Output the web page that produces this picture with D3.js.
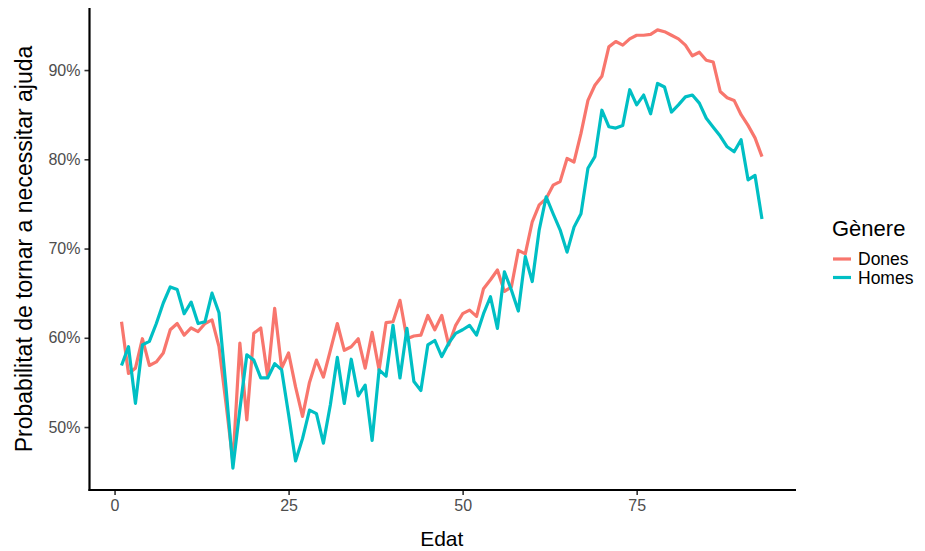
<!DOCTYPE html>
<html>
<head>
<meta charset="utf-8">
<script src="https://cdn.jsdelivr.net/npm/d3@7"></script>
<style>
  html, body { margin: 0; padding: 0; background: #fff; }
  svg { display: block; font-family: "Liberation Sans", Arial, sans-serif; }
</style>
</head>
<body>
<svg id="chart" width="925" height="551"></svg>
<script>
const ages = [1,2,3,4,5,6,7,8,9,10,11,12,13,14,15,16,17,18,19,20,21,22,23,24,25,26,27,28,29,30,
  31,32,33,34,35,36,37,38,39,40,41,42,43,44,45,46,47,48,49,50,51,52,53,54,55,56,57,58,59,60,
  61,62,63,64,65,66,67,68,69,70,71,72,73,74,75,76,77,78,79,80,81,82,83,84,85,86,87,88,89,90,
  91,92,93];

const dones = [61.8,56.0,56.6,59.9,56.9,57.3,58.3,60.9,61.6,60.3,61.1,60.7,61.6,62.0,59.0,52.7,46.1,59.4,50.8,60.5,
  61.1,55.6,63.3,56.6,58.3,54.5,51.2,55.0,57.5,55.6,58.6,61.6,58.6,59.0,59.9,56.6,60.6,56.4,61.7,61.8,
  64.2,59.9,60.2,60.3,62.5,60.9,62.5,59.2,61.4,62.7,63.1,62.4,65.5,66.5,67.6,65.2,65.7,69.8,69.4,73.0,
  74.9,75.6,77.1,77.5,80.1,79.7,82.9,86.6,88.3,89.3,92.6,93.2,92.8,93.5,93.9,93.9,94.0,94.5,94.3,93.9,
  93.5,92.8,91.6,92.0,91.1,90.9,87.6,86.9,86.6,85.0,83.8,82.4,80.3];

const homes = [56.9,59.0,52.65,59.2,59.6,61.6,63.9,65.7,65.4,62.7,64.0,61.6,61.8,65.0,62.8,54.5,45.4,52.0,58.1,57.5,
  55.5,55.5,57.1,56.4,51.4,46.2,48.7,51.9,51.5,48.2,52.5,57.8,52.65,57.6,53.5,54.7,48.5,56.4,55.7,61.4,
  55.5,61.05,55.1,54.1,59.2,59.7,57.9,59.4,60.5,60.9,61.4,60.3,62.7,64.6,61.05,67.4,65.35,63.0,69.1,66.3,
  72.1,75.8,73.9,72.1,69.6,72.4,73.9,79.0,80.3,85.5,83.65,83.5,83.8,87.8,86.1,87.2,85.1,88.5,88.1,85.3,
  86.1,87.0,87.2,86.3,84.6,83.6,82.6,81.4,80.85,82.2,77.7,78.2,73.3];

const seriesNames = ["Dones", "Homes"];
const seriesColors = ["#F8766D", "#00BFC4"];
const xTicks = [0, 25, 50, 75];
const yTicks = [50, 60, 70, 80, 90];
const xTitle = "Edat";
const yTitle = "Probabilitat de tornar a necessitar ajuda";
const legendTitle = "Gènere";

const series = [
  { name: seriesNames[0], color: seriesColors[0], values: dones },
  { name: seriesNames[1], color: seriesColors[1], values: homes }
];

const svg = d3.select("#chart");
const panel = { left: 89.5, right: 794, top: 8, bottom: 490 };

// ggplot-style 5% expansion
function expand(ext) { const r = ext[1] - ext[0]; return [ext[0] - 0.05 * r, ext[1] + 0.05 * r]; }
const xDom = expand(d3.extent(ages));
const yDom = expand(d3.extent(dones.concat(homes)));

const x = d3.scaleLinear().domain(xDom).range([panel.left, panel.right]);
const y = d3.scaleLinear().domain(yDom).range([panel.bottom, panel.top]);

svg.append("rect").attr("width", 925).attr("height", 551).attr("fill", "#fff");

// lines
const line = d3.line().x((d, i) => x(ages[i])).y(d => y(d));
series.forEach(s => {
  svg.append("path")
    .datum(s.values)
    .attr("fill", "none")
    .attr("stroke", s.color)
    .attr("stroke-width", 3.2)
    .attr("stroke-linejoin", "round")
    .attr("d", line);
});

// axes
const xAxis = d3.axisBottom(x).tickValues(xTicks).tickSize(5).tickPadding(5).tickFormat(d3.format("d"));
const yAxis = d3.axisLeft(y).tickValues(yTicks).tickSize(5).tickPadding(4).tickFormat(d => d + "%");

const gx = svg.append("g").attr("transform", `translate(0,${panel.bottom})`).call(xAxis);
const gy = svg.append("g").attr("transform", `translate(${panel.left},0)`).call(yAxis);

[gx, gy].forEach(g => {
  g.select(".domain").remove();
  g.selectAll(".tick line").attr("stroke", "#333").attr("stroke-width", 1.6);
  g.selectAll(".tick text").attr("fill", "#4D4D4D").style("font-size", "16px")
    .style("font-family", "'Liberation Sans', Arial, sans-serif");
});

// axis lines (classic theme)
svg.append("line").attr("x1", panel.left).attr("x2", panel.left)
  .attr("y1", panel.top).attr("y2", panel.bottom + 1)
  .attr("stroke", "#000").attr("stroke-width", 2.2);
svg.append("line").attr("x1", panel.left - 1).attr("x2", panel.right + 2)
  .attr("y1", panel.bottom).attr("y2", panel.bottom)
  .attr("stroke", "#000").attr("stroke-width", 2.2);

// axis titles
svg.append("text").attr("x", (panel.left + panel.right) / 2).attr("y", 546)
  .attr("text-anchor", "middle").style("font-size", "21px").attr("fill", "#000").text(xTitle);
svg.append("text")
  .attr("transform", `translate(32,${(panel.top + panel.bottom) / 2}) rotate(-90)`)
  .attr("text-anchor", "middle").style("font-size", "23px").attr("fill", "#000").text(yTitle);

// legend
const lg = svg.append("g").attr("transform", "translate(832,0)");
lg.append("text").attr("x", 0).attr("y", 236).style("font-size", "22px").attr("fill", "#000").text(legendTitle);
series.forEach((s, i) => {
  const yy = 259 + i * 18.5;
  lg.append("line").attr("x1", 1).attr("x2", 19).attr("y1", yy).attr("y2", yy)
    .attr("stroke", s.color).attr("stroke-width", 3.2);
  lg.append("text").attr("x", 26).attr("y", yy + 6).style("font-size", "17.5px").attr("fill", "#000").text(s.name);
});
</script>
</body>
</html>
